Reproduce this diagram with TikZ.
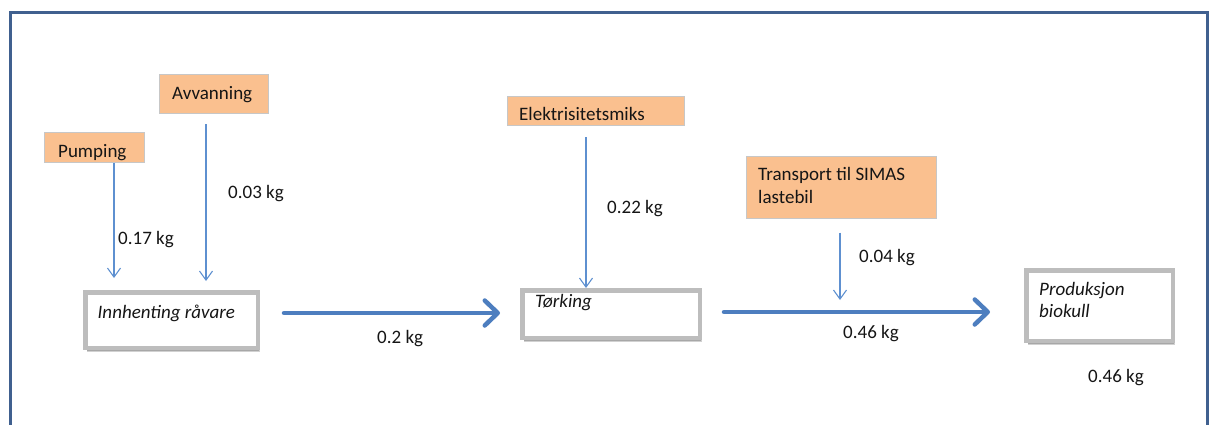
\documentclass[tikz,border=0pt]{standalone}
\usepackage{fontspec}
\setmainfont{Carlito}
\usetikzlibrary{arrows.meta,shadows}
\definecolor{frameblue}{HTML}{40608F}
\definecolor{peach}{HTML}{FAC08F}
\definecolor{feedblue}{HTML}{5E90D0}
\definecolor{flowblue}{HTML}{4D7EBF}
\definecolor{ink}{HTML}{151515}
\tikzset{
  supply/.style={draw=black!22, line width=1pt, fill=peach, inner sep=0pt},
  process/.style={draw=black!26, line width=4.5pt, fill=white, inner sep=0pt,
    drop shadow={shadow xshift=2pt, shadow yshift=-4.5pt, opacity=0.18, fill=black},
    drop shadow={shadow xshift=1.5pt, shadow yshift=-3pt, opacity=0.2, fill=black}},
  lbl/.style={anchor=base west, inner sep=0pt, text=ink, font=\fontsize{19}{23}\selectfont},
  ilbl/.style={lbl, font=\fontsize{19}{23}\selectfont\itshape},
  feed/.style={draw=feedblue, line width=1.1pt, -{Straight Barb[length=9pt,width=13pt]}},
  flow/.style={draw=flowblue, line width=4.5pt, line cap=round,
    -{Straight Barb[length=13pt,width=25pt,round]}}
}
\begin{document}
\begin{tikzpicture}[x=1pt,y=-1pt]
\useasboundingbox (0,0) rectangle (1211,425);

% outer frame (open at the bottom)
\draw[frameblue, line width=3pt] (10.5,430) -- (10.5,12.5) -- (1207.5,12.5) -- (1207.5,430);

% supply boxes
\node[supply, minimum width=100, minimum height=30] (pump) at (94,148) {};
\node[supply, minimum width=109, minimum height=39] (avv) at (213.5,94.5) {};
\node[supply, minimum width=177, minimum height=29] (elek) at (595.5,111.5) {};
\node[supply, minimum width=190, minimum height=61] (trans) at (841,187.5) {};

\node[lbl] (pumpT) at (58,158) {Pumping};
\node[lbl] (avvT) at (172,100) {Avvanning};
\node[lbl] (elekT) at (519,120.5) {Elektrisitetsmiks};
\node[lbl] (transT1) at (758,180.5) {Transport til SIMAS};
\node[lbl] (transT2) at (758,204) {lastebil};

% process boxes
\node[process, minimum width=172.5, minimum height=55.5] (inn) at (171.5,320) {};
\node[process, minimum width=177.5, minimum height=47.5] (tork) at (611,314) {};
\node[process, minimum width=146.5, minimum height=70.5] (prod) at (1099.5,305.5) {};

\node[ilbl] (innT) at (97.5,318) {Innhenting råvare};
\node[ilbl] (torkT) at (535,307) {Tørking};
\node[ilbl] (prodT1) at (1039,295) {Produksjon};
\node[ilbl] (prodT2) at (1039,317) {biokull};

% feed arrows
\draw[feed, shorten >=12pt] ([xshift=20pt]pump.south) -- ([xshift=-57.5pt]inn.north);
\draw[feed, shorten <=10pt, shorten >=9pt] ([xshift=-7.5pt]avv.south) -- ([xshift=34.5pt]inn.north);
\draw[feed, shorten <=11pt] ([xshift=-9.5pt]elek.south) -- ([xshift=-25pt]tork.north);
\coordinate (merge) at (840,300);
\draw[feed, shorten <=14pt] ([xshift=-1pt]trans.south) -- (merge);

% main flow arrows
\draw[flow, shorten <=24pt, shorten >=20pt] ([yshift=7pt]inn.east) -- ([yshift=1pt]tork.west);
\draw[flow, shorten <=22pt, shorten >=34pt] ([yshift=2pt]tork.east) -- ([yshift=-6.5pt]prod.west);

% quantities
\node[lbl] (q1) at (118,244) {0.17 kg};
\node[lbl] (q2) at (228,198) {0.03 kg};
\node[lbl] (q3) at (607,213) {0.22 kg};
\node[lbl] (q4) at (377,343) {0.2 kg};
\node[lbl] (q5) at (843,338) {0.46 kg};
\node[lbl] (q6) at (859,262.5) {0.04 kg};
\node[lbl] (q7) at (1088,382.5) {0.46 kg};
\end{tikzpicture}
\end{document}
